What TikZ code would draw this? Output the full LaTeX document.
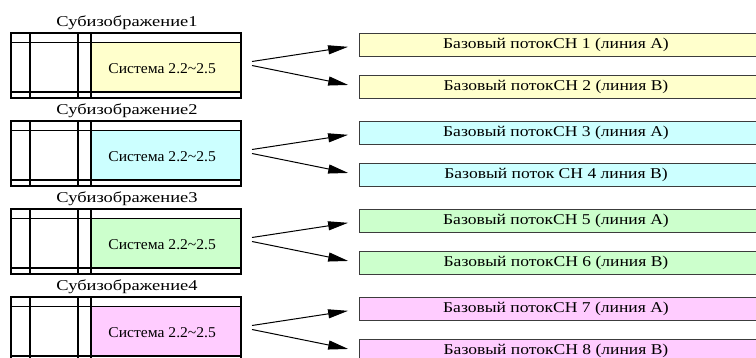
\documentclass[tikz,border=0pt]{standalone}
\usepackage{fontspec}
\setmainfont{Liberation Serif}
\newfontfamily\labfont[FakeStretch=1.23]{Liberation Serif}
\newfontfamily\sysfont[FakeStretch=1.04]{Liberation Serif}
\newfontfamily\strfont[FakeStretch=1.17]{Liberation Serif}
\usetikzlibrary{arrows.meta,calc}
\definecolor{cy}{RGB}{255,255,204}
\definecolor{cc}{RGB}{204,255,255}
\definecolor{cg}{RGB}{204,255,204}
\definecolor{cp}{RGB}{255,204,255}
\definecolor{bord}{RGB}{60,60,60}
\tikzset{
  gridline/.style={draw=black,line width=1.1pt},
  sysbox/.style={rectangle,inner sep=0pt,minimum width=150pt,minimum height=49.5pt},
  systext/.style={inner sep=0pt,font=\sysfont\fontsize{15}{17}\selectfont},
  streambox/.style={rectangle,draw=bord,line width=1.3pt,inner sep=0pt,minimum width=400pt,minimum height=23pt,anchor=north west},
  streamtext/.style={inner sep=0pt,font=\strfont\fontsize{15}{17}\selectfont},
  sublabel/.style={inner sep=0pt,font=\labfont\fontsize{15}{17}\selectfont},
  arr/.style={draw=black,line width=1pt,-{Triangle[length=20pt,width=9pt]}},
}
\begin{document}
\begin{tikzpicture}[x=1pt,y=-1pt]
\useasboundingbox (0,0) rectangle (756,358);
\foreach \i/\col/\ta/\tb in {1/cy/{Базовый потокCH 1 (линия A)}/{Базовый потокCH 2 (линия B)},
                             2/cc/{Базовый потокCH 3 (линия A)}/{Базовый поток CH 4 линия B)},
                             3/cg/{Базовый потокCH 5 (линия A)}/{Базовый потокCH 6 (линия B)},
                             4/cp/{Базовый потокCH 7 (линия A)}/{Базовый потокCH 8 (линия B)}}{
  \pgfmathsetmacro{\T}{33+88*(\i-1)}
  % colored system area
  \node[sysbox,fill=\col,anchor=north west] (sys\i) at (91,\T+9.5) {};
  \node[systext] (syst\i) at ($(sys\i.center)+(-4,1)$) {Система 2.2\textasciitilde2.5};
  % grid of the block
  \draw[gridline] (11,\T) rectangle (241,\T+65);
  \draw[gridline] (11,\T+9.5) -- (241,\T+9.5);
  \draw[gridline] (11,\T+59) -- (241,\T+59);
  \draw[gridline] (30,\T) -- (30,\T+65);
  \draw[gridline] (78,\T) -- (78,\T+65);
  \draw[gridline] (91,\T) -- (91,\T+65);
  % label
  \node[sublabel] (lab\i) at (127,\T-10) {Субизображение\i};
  % stream boxes
  \node[streambox,fill=\col] (a\i) at (359,\T) {};
  \node[streamtext] (at\i) at (556,\T+11.5) {\ta};
  \node[streambox,fill=\col] (b\i) at (359,\T+42) {};
  \node[streamtext] (bt\i) at (556,\T+53.5) {\tb};
  % arrows
  \coordinate (sa\i) at (252,\T+28.5);
  \coordinate (sb\i) at (252,\T+32.5);
  \draw[arr,shorten >=11pt] (sa\i) -- (a\i.west);
  \draw[arr,shorten >=11pt] (sb\i) -- (b\i.west);
}
\end{tikzpicture}
\end{document}
